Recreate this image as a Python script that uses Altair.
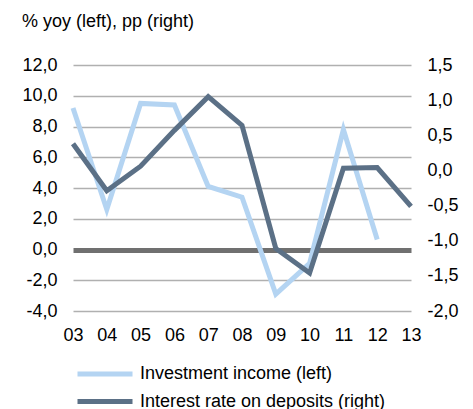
import altair as alt
import pandas as pd

years = [2003, 2004, 2005, 2006, 2007, 2008, 2009, 2010, 2011, 2012, 2013]
investment_income = [9.2, 2.6, 9.5, 9.4, 4.1, 3.4, -2.9, -0.9, 7.8, 0.65]
deposit_rate = [0.38, -0.29, 0.06, 0.57, 1.05, 0.64, -1.11, -1.46, 0.03, 0.04, -0.51]
series_names = ["Investment income (left)", "Interest rate on deposits (right)"]
series_colors = ["#B4D4F2", "#5B7086"]
left_ticks = [-4, -2, 0, 2, 4, 6, 8, 10, 12]
right_ticks = [-2.0, -1.5, -1.0, -0.5, 0.0, 0.5, 1.0, 1.5]

inv_df = pd.DataFrame({"year": years[:len(investment_income)],
                       "value": investment_income,
                       "series": series_names[0]})
dep_df = pd.DataFrame({"year": years, "value": deposit_rate,
                       "series": series_names[1]})

FONT = "Liberation Sans"
FS = 18
num_expr = "(datum.value < 0 ? '-' : '') + replace(format(abs(datum.value), '.1f'), '.', ',')"

color = alt.Color(
    "series:N",
    scale=alt.Scale(domain=series_names, range=series_colors),
    legend=alt.Legend(
        title=None, orient="none", legendX=18.5, legendY=295.5,
        symbolType="M-2.5,0H2.5", symbolSize=484, symbolStrokeWidth=5,
        labelFontSize=FS, labelFont=FONT, labelColor="#000", labelLimit=0,
        labelOffset=21.5, rowPadding=3.5, direction="vertical",
    ),
)

x = alt.X(
    "year:Q",
    scale=alt.Scale(domain=[2003, 2013], nice=False, zero=False),
    axis=alt.Axis(values=years, labelExpr="slice(toString(datum.value), 2)",
                  title=None, grid=False, domain=False, ticks=False,
                  labelFlush=False, labelOverlap=False,
                  labelPadding=15, labelFontSize=FS, labelFont=FONT,
                  labelColor="#000"),
)

inv_line = alt.Chart(inv_df).mark_line(strokeWidth=5).encode(
    x=x,
    y=alt.Y("value:Q",
            scale=alt.Scale(domain=[-4, 12], nice=False, zero=False),
            axis=alt.Axis(values=left_ticks, labelExpr=num_expr, title=None,
                          domain=False, ticks=False, labelPadding=16,
                          labelFontSize=FS, labelFont=FONT, labelColor="#000",
                          grid=True,
                          gridColor={"condition": {"test": "datum.value === 0", "value": "#707070"}, "value": "#B0B0B0"},
                          gridWidth={"condition": {"test": "datum.value === 0", "value": 5}, "value": 1.5})),
    color=color,
)

dep_line = alt.Chart(dep_df).mark_line(strokeWidth=5).encode(
    x=x,
    y=alt.Y("value:Q",
            scale=alt.Scale(domain=[-2, 1.5], nice=False, zero=False),
            axis=alt.Axis(orient="right", values=right_ticks, labelExpr=num_expr,
                          title=None, domain=False, ticks=False, grid=False,
                          labelPadding=16, labelFontSize=FS, labelFont=FONT,
                          labelColor="#000")),
    color=color,
)

chart = alt.layer(inv_line, dep_line).resolve_scale(y="independent").properties(
    width=338, height=246,
    autosize="none",
    padding={"left": 65, "top": 57, "right": 54, "bottom": 98},
    title=alt.Title("% yoy (left), pp (right)", anchor="start", dx=0,
                    fontSize=FS, font=FONT, fontWeight="normal", color="#000",
                    offset=25),
).configure_view(stroke=None)

chart.save("out.html", embed_options={"renderer": "svg", "actions": False})
